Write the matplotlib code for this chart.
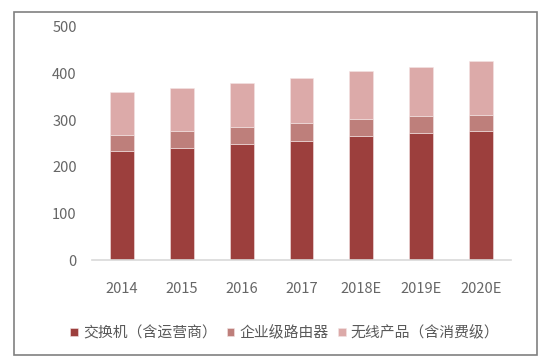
import matplotlib
matplotlib.use('Agg')
import matplotlib.pyplot as plt
from matplotlib.patches import Rectangle
import numpy as np

plt.rcParams['font.family'] = ['Noto Sans CJK SC', 'DejaVu Sans']

years = ['2014', '2015', '2016', '2017', '2018E', '2019E', '2020E']
switches = [234, 241, 250, 256, 266, 272, 277]
routers = [34, 36, 36, 37, 37, 36, 34]
wireless = [93, 92, 94, 98, 102, 106, 115]

labels = ['交换机（含运营商）', '企业级路由器', '无线产品（含消费级）']
colors = ['#9c3f3d', '#be7f7b', '#dcaaa9']

fig = plt.figure(figsize=(5.57, 3.63), dpi=100)
ax = fig.add_axes([92 / 557, 1 - 260 / 363, 419 / 557, 233 / 363])

x = np.arange(len(years))
bottom = np.zeros(len(years))
for vals, lab, col in zip([switches, routers, wireless], labels, colors):
    ax.bar(x, vals, 0.4, bottom=bottom, color=col, label=lab,
           edgecolor='#f3e4e4', linewidth=0.4)
    bottom += np.array(vals)

ax.set_xlim(-0.5, len(years) - 0.5)
ax.set_ylim(0, 500)
ax.set_yticks(range(0, 501, 100))
ax.set_xticks(x)
ax.set_xticklabels(years)
ax.tick_params(axis='both', length=0, labelsize=10.5, colors='#666666')
ax.tick_params(axis='x', pad=16)
ax.tick_params(axis='y', pad=11)
for s in ['top', 'right', 'left']:
    ax.spines[s].set_visible(False)
ax.spines['bottom'].set_color('#d9d9d9')
ax.spines['bottom'].set_linewidth(1.2)

fig.legend(loc='center', bbox_to_anchor=(285 / 557, 1 - 333 / 363), ncol=3,
           frameon=False, fontsize=10.7, handlelength=0.5, handleheight=0.5,
           handletextpad=0.35, columnspacing=0.65, labelcolor='#595959')

# outer frame
fig.patches.append(Rectangle((14 / 557, 1 - 355 / 363), 523 / 557, 343 / 363,
                             transform=fig.transFigure, fill=False,
                             edgecolor='#808080', linewidth=1.2))

fig.savefig('out.png', dpi=100)
